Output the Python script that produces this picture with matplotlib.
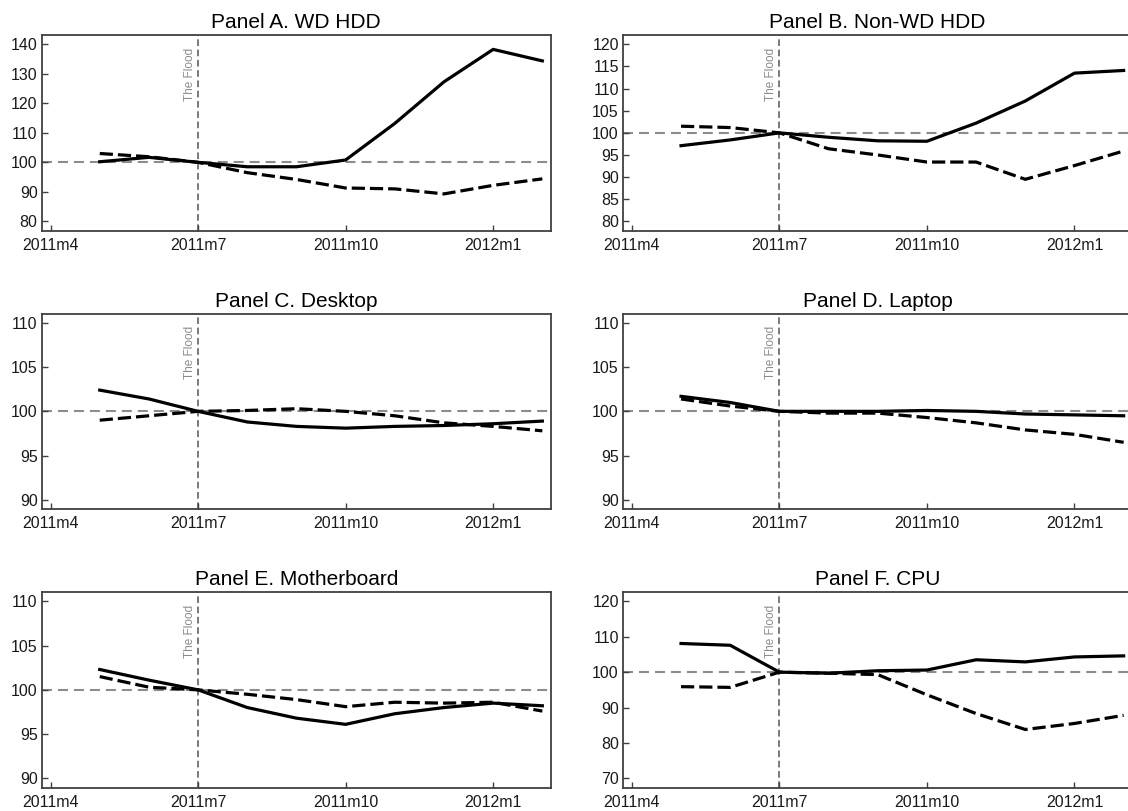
import matplotlib
matplotlib.use("Agg")
import matplotlib.pyplot as plt
import matplotlib.transforms as mtransforms

plt.rcParams['font.family'] = ['Liberation Sans', 'DejaVu Sans']
plt.rcParams['lines.scale_dashes'] = False

# months: 0 = 2011m4 ... 10 = 2012m2
months = [1, 2, 3, 4, 5, 6, 7, 8, 9, 10]
tick_pos = [0, 3, 6, 9]
tick_labels = ['2011m4', '2011m7', '2011m10', '2012m1']
flood_month = 3

titles = ['Panel A. WD HDD', 'Panel B. Non-WD HDD', 'Panel C. Desktop',
          'Panel D. Laptop', 'Panel E. Motherboard', 'Panel F. CPU']

wd_solid = [100.2, 101.7, 100.0, 98.5, 98.5, 100.8, 113.2, 127.3, 138.3, 134.4]
wd_dashed = [103.0, 101.9, 100.0, 96.5, 94.2, 91.3, 91.0, 89.3, 92.2, 94.4]

nonwd_solid = [97.1, 98.4, 100.0, 99.0, 98.2, 98.1, 102.2, 107.2, 113.5, 114.1]
nonwd_dashed = [101.5, 101.2, 100.0, 96.4, 95.0, 93.4, 93.4, 89.5, 92.6, 95.9]

desktop_solid = [102.4, 101.4, 100.0, 98.8, 98.3, 98.1, 98.3, 98.4, 98.6, 98.9]
desktop_dashed = [99.0, 99.5, 100.0, 100.1, 100.3, 100.0, 99.5, 98.7, 98.3, 97.8]

laptop_solid = [101.7, 101.0, 100.0, 100.0, 100.0, 100.1, 100.0, 99.7, 99.6, 99.5]
laptop_dashed = [101.4, 100.6, 100.0, 99.8, 99.8, 99.3, 98.7, 97.9, 97.4, 96.5]

mobo_solid = [102.3, 101.1, 100.0, 98.0, 96.8, 96.1, 97.3, 98.0, 98.5, 98.2]
mobo_dashed = [101.5, 100.3, 100.0, 99.5, 98.9, 98.1, 98.6, 98.5, 98.6, 97.6]

cpu_solid = [108.1, 107.6, 100.0, 99.7, 100.4, 100.6, 103.5, 102.9, 104.3, 104.6]
cpu_dashed = [95.9, 95.7, 100.0, 99.7, 99.3, 93.6, 88.3, 83.8, 85.5, 87.8]

solid_series = [wd_solid, nonwd_solid, desktop_solid, laptop_solid, mobo_solid, cpu_solid]
dashed_series = [wd_dashed, nonwd_dashed, desktop_dashed, laptop_dashed, mobo_dashed, cpu_dashed]

yticks_list = [list(range(80, 141, 10)), list(range(80, 121, 5)), list(range(90, 111, 5)),
               list(range(90, 111, 5)), list(range(90, 111, 5)), list(range(70, 121, 10))]

W, H = 1128, 811
fig = plt.figure(figsize=(W / 100, H / 100), dpi=100)

col_lefts = [41.7, 623.0]
col_width = 509.0
row_tops = [35.0, 313.5, 592.0]
row_height = 195.7

for i in range(6):
    r, c = divmod(i, 2)
    left = col_lefts[c] / W
    bottom = 1 - (row_tops[r] + row_height) / H
    ax = fig.add_axes([left, bottom, col_width / W, row_height / H])

    yt = yticks_list[i]
    rng = yt[-1] - yt[0]
    pad = rng * 0.053
    ax.set_ylim(yt[0] - pad, yt[-1] + pad)
    ax.set_xlim(-0.18, 10.17)

    ax.axhline(100, color='#8c8c8c', lw=1.5, linestyle=(0, (7.2, 4.3)), zorder=1)
    ax.axvline(flood_month, color='#7a7a7a', lw=1.4, linestyle=(0, (4.8, 2.6)), zorder=1)

    ax.plot(months, dashed_series[i], color='black', lw=2.3,
            linestyle=(0, (9.5, 3.6)), zorder=3)
    ax.plot(months, solid_series[i], color='black', lw=2.3, zorder=4)

    trans = mtransforms.blended_transform_factory(ax.transData, ax.transAxes)
    ax.text(flood_month - 0.04, 0.935, 'The Flood', rotation=90, ha='right', va='top',
            color='#8c8c8c', fontsize=8.5, transform=trans)

    ax.set_xticks(tick_pos)
    ax.set_xticklabels(tick_labels)
    ax.set_yticks(yt)
    ax.set_yticklabels([str(v) for v in yt])
    ax.tick_params(axis='both', direction='in', length=4, width=1.0, color='#404040',
                   labelsize=11.5, labelcolor='#1a1a1a')
    ax.tick_params(axis='x', pad=5)
    ax.tick_params(axis='y', pad=3)
    for s in ax.spines.values():
        s.set_color('#404040')
        s.set_linewidth(1.3)
    ax.set_title(titles[i], fontsize=15, color='black', pad=5)

fig.savefig('out.png', dpi=100, facecolor='white')
